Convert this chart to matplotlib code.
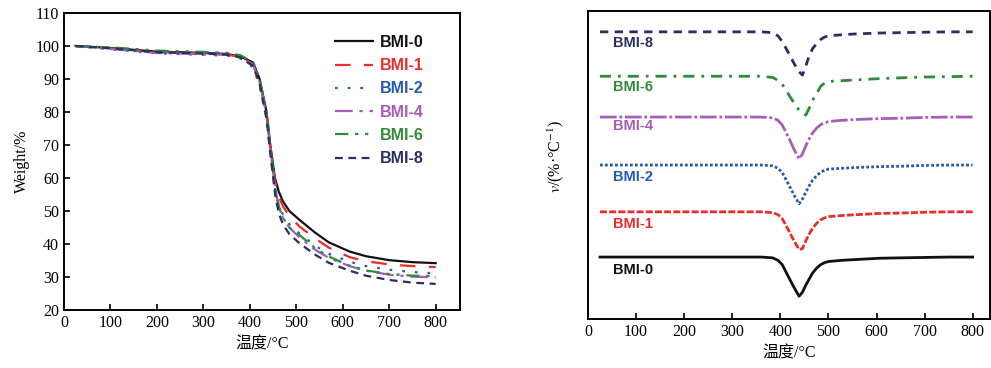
import matplotlib
matplotlib.use("Agg")
import matplotlib.pyplot as plt
from matplotlib.lines import Line2D

plt.rcParams['font.family'] = ['Liberation Serif', 'Noto Sans CJK SC']
plt.rcParams['mathtext.fontset'] = 'stix'

series = ["BMI-0", "BMI-1", "BMI-2", "BMI-4", "BMI-6", "BMI-8"]
colors = ["#111111", "#ee2b2b", "#2558b5", "#a85bb8", "#2f8a3a", "#2b2d66"]
dashes = [None, (7, 6), (1.2, 4.5), (8, 3, 1.5, 3), (6, 3, 1.5, 3, 1.5, 3), (3.5, 2.5)]
dashes_dtg = [None, (2.5, 0.8), (1.0, 0.8), (6, 1, 1, 1), (4, 2.5, 1, 2.5), (3, 2.3)]

# TGA (Weight %)
tga_T = [25, 100, 200, 300, 350, 380, 395, 407, 421, 436, 444, 454, 462, 471,
         485, 507, 540, 570, 615, 650, 700, 750, 800]
tga = {
    "BMI-0": [100, 99.4, 98.3, 97.9, 97.6, 96.8, 95.8, 95.0, 90, 80, 70, 60, 56, 53,
              50, 47.3, 43.5, 40.5, 37.7, 36.3, 35.1, 34.5, 34.2],
    "BMI-1": [100, 99.3, 98.2, 97.8, 97.5, 96.6, 95.5, 94.5, 89.5, 79.5, 69.5, 59, 54.5, 51.5,
              48.5, 45.3, 41.7, 38.9, 36.0, 34.8, 33.8, 33.3, 33.0],
    "BMI-2": [100, 99.0, 97.8, 97.3, 97.1, 96.2, 94.8, 93.5, 88, 78, 68, 57, 52, 49,
              46, 43.2, 39.5, 37.0, 34.6, 33.3, 32.2, 31.5, 31.1],
    "BMI-4": [100, 99.1, 97.9, 97.5, 97.3, 96.5, 95.2, 94.3, 89, 79, 69, 57.5, 51.5, 48,
              45, 42.0, 38.3, 35.8, 33.3, 31.9, 30.7, 30.1, 29.9],
    "BMI-6": [100, 99.6, 98.6, 98.2, 97.9, 97.2, 96.0, 95.2, 90, 80, 69.5, 57.5, 51.5, 48,
              45, 42.7, 38.8, 36.2, 33.4, 32.0, 30.9, 30.4, 30.3],
    "BMI-8": [100, 99.3, 98.1, 97.7, 97.4, 96.5, 95.0, 94.0, 88.5, 78, 67.5, 55.5, 49.5, 46,
              43, 40.2, 36.8, 34.3, 31.9, 30.4, 29.1, 28.3, 27.9],
}

# DTG (rate, arbitrary units) and stacking offsets
dtg_T = [25, 100, 200, 300, 360, 384, 395, 404, 418, 429, 439, 446, 453, 460, 467,
         476, 484, 492, 501, 530, 560, 605, 650, 700, 750, 800]
dtg = {
    "BMI-0": [0, 0, 0, 0, 0, -0.02, -0.08, -0.19, -0.52, -0.77, -0.98, -0.88, -0.70, -0.55, -0.40,
              -0.27, -0.19, -0.14, -0.11, -0.08, -0.06, -0.03, -0.02, -0.01, 0, 0],
    "BMI-1": [0, 0, 0, 0, 0, -0.02, -0.07, -0.17, -0.48, -0.74, -0.94, -0.92, -0.72, -0.56, -0.41,
              -0.28, -0.20, -0.15, -0.12, -0.09, -0.07, -0.04, -0.03, -0.01, 0, 0],
    "BMI-2": [0, 0, 0, 0, 0, -0.02, -0.08, -0.19, -0.50, -0.76, -0.97, -0.85, -0.68, -0.52, -0.38,
              -0.26, -0.18, -0.13, -0.10, -0.08, -0.06, -0.04, -0.03, -0.01, 0, 0],
    "BMI-4": [0, 0, 0, 0, 0, -0.02, -0.08, -0.20, -0.53, -0.82, -1.05, -0.92, -0.72, -0.55, -0.40,
              -0.27, -0.19, -0.14, -0.11, -0.08, -0.06, -0.04, -0.03, -0.01, 0, 0],
    "BMI-6": [0, 0, 0, 0, 0, -0.03, -0.10, -0.20, -0.47, -0.68, -0.85, -0.92, -0.97, -0.80, -0.60,
              -0.42, -0.25, -0.17, -0.13, -0.11, -0.09, -0.06, -0.04, -0.02, -0.01, 0],
    "BMI-8": [0, 0, 0, 0, 0, -0.02, -0.10, -0.24, -0.55, -0.80, -1.00, -1.08, -0.85, -0.60, -0.42,
              -0.29, -0.19, -0.13, -0.10, -0.07, -0.05, -0.03, -0.02, -0.01, 0, 0],
}
dtg_offsets = [0.0, 1.13, 2.30, 3.50, 4.52, 5.63]
dtg_label_y = [-0.33, 0.83, 2.0, 3.28, 4.25, 5.35]

xticks = [0, 100, 200, 300, 400, 500, 600, 700, 800]
yticks_tga = [20, 30, 40, 50, 60, 70, 80, 90, 100, 110]

fig = plt.figure(figsize=(9.91, 3.68), dpi=100)
ax1 = fig.add_axes([0.0646, 0.1576, 0.464 - 0.0646, 0.9647 - 0.1576])
ax2 = fig.add_axes([0.5933, 0.133, 0.9985 - 0.5933, 0.970 - 0.133])


def style_line(line, d):
    if d is not None:
        line.set_dashes(d)


for s, c, d in zip(series, colors, dashes):
    ln, = ax1.plot(tga_T, tga[s], color=c, lw=1.6, label=s)
    style_line(ln, d)

ax1.set_xlim(0, 852)
ax1.set_ylim(20, 110)
ax1.set_xticks(xticks)
ax1.set_yticks(yticks_tga)
ax1.tick_params(direction='in', length=4, width=1.2, labelsize=11.5)
for sp in ax1.spines.values():
    sp.set_linewidth(1.4)
ax1.set_xlabel("温度/°C", fontsize=11.5, labelpad=4)
ax1.set_ylabel("Weight/%", fontsize=11.5, labelpad=4)

handles = []
for s, c, d in zip(series, colors, dashes):
    h = Line2D([], [], color=c, lw=1.6)
    style_line(h, d)
    handles.append(h)
leg = ax1.legend(handles, series, loc='upper right', frameon=False,
                 bbox_to_anchor=(0.945, 0.975), handlelength=2.4, handletextpad=0.4,
                 labelspacing=0.52, prop={'family': 'Liberation Sans', 'weight': 'bold', 'size': 11.5})
for txt, c in zip(leg.get_texts(), colors):
    txt.set_color(c)

for s, c, d, off, ly in zip(series, colors, dashes_dtg, dtg_offsets, dtg_label_y):
    ln, = ax2.plot(dtg_T, [v + off for v in dtg[s]], color=c, lw=2.0)
    style_line(ln, d)
    ax2.text(52, ly, s, color=c, fontsize=10.5, fontweight='bold',
             family='Liberation Sans', ha='left', va='center')

ax2.set_xlim(0, 835)
ax2.set_ylim(-1.55, 6.15)
ax2.set_xticks(xticks)
ax2.set_yticks([])
ax2.tick_params(direction='in', length=4, width=1.2, labelsize=11.5)
for sp in ax2.spines.values():
    sp.set_linewidth(1.4)
ax2.set_xlabel("温度/°C", fontsize=11.5, labelpad=4)
ax2.set_ylabel(r"$v$/(%·°C$^{-1}$)", fontsize=11.5, labelpad=8)
ax2.yaxis.set_label_coords(-0.055, 0.53)

fig.savefig("out.png", dpi=100)
